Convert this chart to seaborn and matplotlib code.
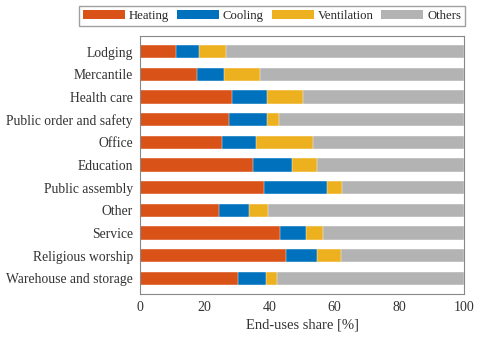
import matplotlib
matplotlib.use("Agg")
import matplotlib.pyplot as plt
import seaborn as sns
import pandas as pd
from matplotlib.patches import Patch

categories = ["Lodging", "Mercantile", "Health care", "Public order and safety",
              "Office", "Education", "Public assembly", "Other", "Service",
              "Religious worship", "Warehouse and storage"]
heating = [11.1, 17.6, 28.3, 27.6, 25.3, 35.0, 38.3, 24.4, 43.3, 45.1, 30.1]
cooling = [7.2, 8.4, 10.8, 11.5, 10.4, 11.8, 19.5, 9.3, 7.9, 9.4, 8.8]
ventilation = [8.1, 11.1, 11.1, 3.9, 17.6, 7.9, 4.5, 5.7, 5.2, 7.6, 3.3]
series = ["Heating", "Cooling", "Ventilation", "Others"]
colors = ["#D95319", "#0072BD", "#EDB120", "#B3B3B3"]

df = pd.DataFrame({"cat": categories, "Heating": heating,
                   "Cooling": cooling, "Ventilation": ventilation})
df["Others"] = 100 - df["Heating"] - df["Cooling"] - df["Ventilation"]

sns.set_style("white")
plt.rcParams["font.family"] = ["Liberation Serif", "DejaVu Serif"]

fig = plt.figure(figsize=(4.8, 3.39), dpi=100)
ax = fig.add_axes([140 / 480, 1 - 294 / 339, 324 / 480, 258 / 339])

# cumulative sums so each segment is drawn on top of the previous ones
cum = df[series].cumsum(axis=1)
for s, c in reversed(list(zip(series, colors))):
    sns.barplot(data=cum, x=s, y=df["cat"], orient="h", color=c,
                width=0.6, saturation=1, ax=ax, edgecolor="white", linewidth=0.3)

ax.set_xlim(0, 100)
ax.set_ylim(10.69, -0.69)
ax.set_xticks([0, 20, 40, 60, 80, 100])
ax.set_ylabel("")
ax.set_xlabel("End-uses share [%]", fontsize=10.5, color="#333333", labelpad=3)
ax.tick_params(axis="x", length=0, labelsize=10, colors="#333333", pad=5)
ax.tick_params(axis="y", length=0, labelsize=9.8, colors="#333333", pad=5)
for sp in ax.spines.values():
    sp.set_color("#888888")
    sp.set_linewidth(0.8)

handles = [Patch(facecolor=c, edgecolor="none") for c in colors]
fig.legend(handles, series, loc="upper right", ncol=4,
           bbox_to_anchor=(465 / 480, 1 - 6 / 339), fontsize=9.2,
           frameon=True, fancybox=False, edgecolor="#888888",
           handlelength=3.3, handleheight=0.75, columnspacing=0.6,
           handletextpad=0.3, borderpad=0.3, borderaxespad=0)

fig.savefig("out.png", dpi=100)
